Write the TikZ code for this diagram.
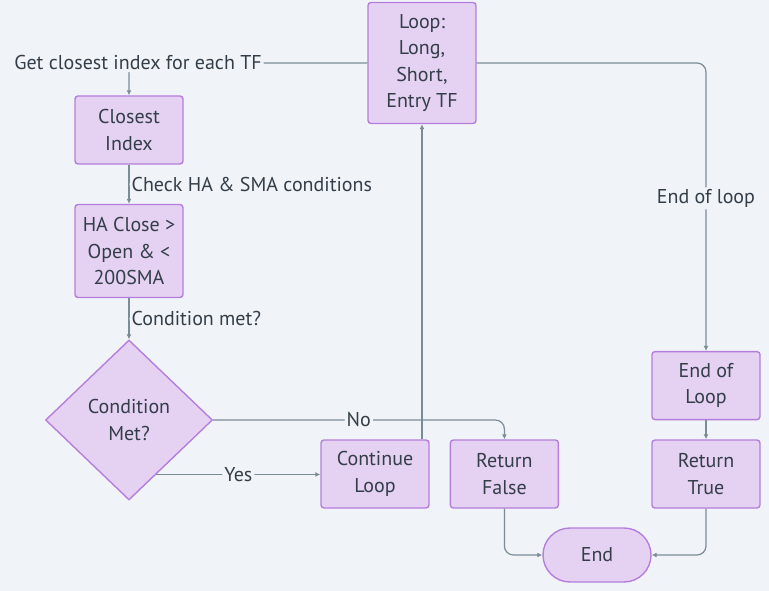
\documentclass[tikz,border=0pt]{standalone}
\usepackage{fontspec}
\setmainfont{PT Sans}
\usepackage{xcolor}
\usetikzlibrary{arrows.meta,positioning,shapes.geometric,calc}
\definecolor{bgcol}{HTML}{F0F4F8}
\definecolor{boxfill}{HTML}{E5D1F2}
\definecolor{boxline}{HTML}{B57EDC}
\definecolor{edgecol}{HTML}{7B8C99}
\definecolor{txtcol}{HTML}{333E48}

\begin{document}
\begin{tikzpicture}[x=1pt,y=-1pt,
  box/.style={draw=boxline,fill=boxfill,line width=1.4pt,rounded corners=3pt,align=center,text=txtcol,
    minimum width=108pt,minimum height=68pt,inner sep=2pt,font=\fontsize{20}{26.5}\selectfont},
  decision/.style={box,diamond,rounded corners=0pt,minimum width=167pt,minimum height=160pt,inner sep=0pt},
  term/.style={box,rounded corners=27pt,minimum height=54pt},
  arr/.style={-{Latex[length=5pt,width=5pt]},draw=edgecol,line width=1.2pt,rounded corners=9pt},
  lbl/.style={fill=bgcol,text=txtcol,inner sep=2pt,font=\fontsize{20}{22}\selectfont}]
\useasboundingbox[fill=bgcol] (0,0) rectangle (769,591);
\node[box,minimum height=121pt] (loop) at (422,63) {Loop:\\Long,\\Short,\\Entry TF};
\node[box] (closest) at (129,130) {Closest\\Index};
\node[box,minimum height=93pt] (hacheck) at (129,251) {HA Close >\\Open \& <\\200SMA};
\node[decision] (cond) at (129,420) {Condition\\Met?};
\node[box] (cont) at (375,474) {Continue\\Loop};
\node[box,right=20pt of cont] (retfalse) {Return\\False};
\node[box] (rettrue) at (706,474) {Return\\True};
\node[box,above=19pt of rettrue] (endloop) {End of\\Loop};
\node[term] (fin) at (597,555) {End};
\draw[arr] (loop.west) -| node[lbl,pos=0.5,xshift=9pt] {Get closest index for each TF} (closest.north);
\draw[arr] (closest) -- node[lbl,right] {Check HA \& SMA conditions} (hacheck);
\draw[arr] (hacheck) -- node[lbl,right] {Condition met?} (cond);
\draw[arr] (cond.east) -| node[lbl,pos=0.25] {No} (retfalse.north);
\coordinate (yesstart) at ($(cond.south)!0.325!(cond.east)$);
\draw[arr] (yesstart) -- node[lbl] {Yes} (yesstart -| cont.west);
\draw[arr] (cont.north -| loop.south) -- (loop.south);
\draw[arr] (loop.east) -| node[lbl,pos=0.735] {End of loop} (endloop.north);
\draw[arr] (endloop) -- (rettrue);
\draw[arr] (retfalse.south) |- (fin.west);
\draw[arr] (rettrue.south) |- (fin.east);
\end{tikzpicture}
\end{document}
